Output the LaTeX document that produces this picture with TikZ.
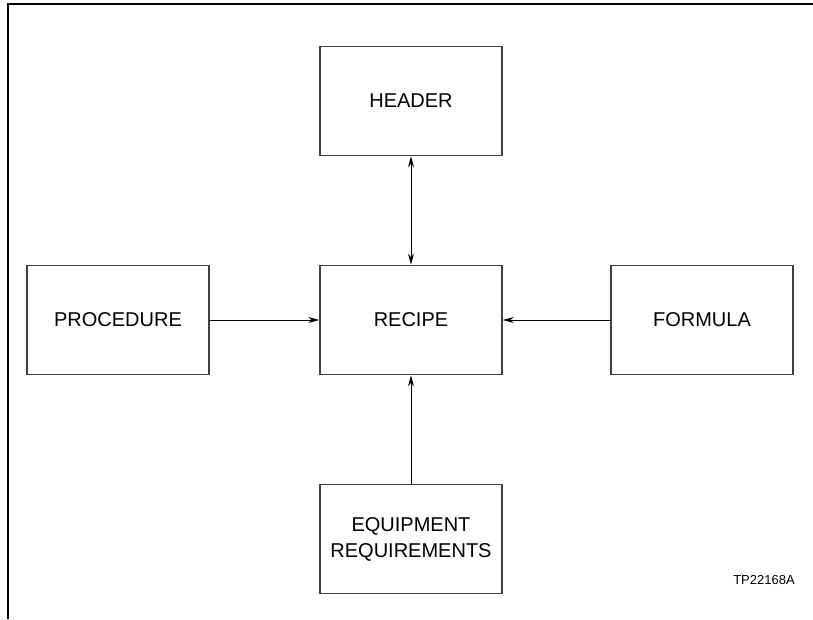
\documentclass[tikz,border=0pt]{standalone}
\usepackage{fontspec}
\setmainfont{Liberation Sans}
\usetikzlibrary{arrows.meta}
\begin{document}
\begin{tikzpicture}[x=1pt,y=-1pt,
  blockbox/.style={draw=black!75,line width=1.6pt,minimum width=182pt,minimum height=109pt,
    inner sep=0pt,align=center,font=\fontsize{20}{26}\selectfont},
  conn/.style={line width=1pt,-{Stealth[length=11pt,width=6pt]}},
  conn2/.style={line width=1pt,{Stealth[length=11pt,width=6pt]}-{Stealth[length=11pt,width=6pt]}}]
\useasboundingbox (0,0) rectangle (813,619);
\draw[line width=2pt] (8,619) -- (8,4) -- (813,4);
\node[blockbox] (header) at (411,101) {HEADER};
\node[blockbox] (recipe) at (411,320) {RECIPE};
\node[blockbox] (proc) at (118,320) {PROCEDURE};
\node[blockbox] (form) at (702,320) {FORMULA};
\node[blockbox] (equip) at (411,539) {EQUIPMENT\\REQUIREMENTS};
\node[font=\fontsize{13}{15}\selectfont] (tp) at (764,580) {TP22168A};
\draw[conn2] (header.south) -- (recipe.north);
\draw[conn] (proc.east) -- (recipe.west);
\draw[conn] (form.west) -- (recipe.east);
\draw[conn] (equip.north) -- (recipe.south);
\end{tikzpicture}
\end{document}
